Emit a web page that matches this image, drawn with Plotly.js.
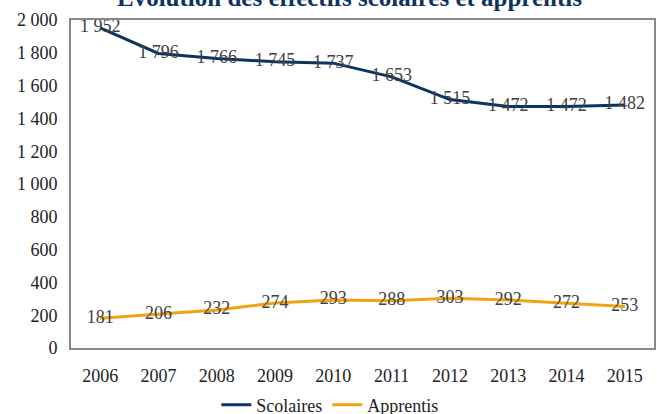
<!DOCTYPE html>
<html><head><meta charset="utf-8">
<script src="https://cdn.plot.ly/plotly-3.0.1.min.js"></script>
<style>html,body{margin:0;padding:0;background:#fff}#c{width:657px;height:414px}</style>
</head><body><div id="c"></div>
<script>
const years = ['2006','2007','2008','2009','2010','2011','2012','2013','2014','2015'];
const scolaires = [1952,1796,1766,1745,1737,1653,1515,1472,1472,1482];
const apprentis = [181,206,232,274,293,288,303,292,272,253];
const yTicks = [0,200,400,600,800,1000,1200,1400,1600,1800,2000];
const titleText = 'Évolution des effectifs scolaires et apprentis';

const FONT = 'Liberation Serif, Times New Roman, serif';
const mk = (name, y, color) => ({
  x: years, y: y, name: name, type: 'scatter', mode: 'lines+text',
  line: {color: color, width: 3},
  text: y, texttemplate: '%{y:,}', textposition: 'middle center',
  textfont: {family: FONT, size: 18, color: '#404040'},
  cliponaxis: false
});
const data = [mk('Scolaires', scolaires, '#0c3463'), mk('Apprentis', apprentis, '#f2a30f')];
const layout = {
  width: 657, height: 414,
  margin: {l: 71, r: 3, t: 20, b: 66, autoexpand: false},
  separators: ', ',
  paper_bgcolor: '#fff', plot_bgcolor: '#fff',
  font: {family: FONT, size: 18, color: '#222'},
  annotations: [{text: '<b>' + titleText + '</b>', xref: 'paper', yref: 'paper', x: 0.477, y: 1.07,
                 xanchor: 'center', yanchor: 'middle', showarrow: false,
                 font: {family: FONT, size: 25, color: '#0c3463'}}],
  xaxis: {type: 'category', showgrid: false, showline: true, linecolor: '#888', linewidth: 2, mirror: true,
          ticks: '', tickangle: 0, ticklabelstandoff: 10, tickfont: {family: FONT, size: 18, color: '#222'}, range: [-0.5, 9.5]},
  yaxis: {range: [0, 2000], tickvals: yTicks, tickformat: ',', showgrid: false, showline: true, linecolor: '#888', linewidth: 2, mirror: true,
          ticks: '', ticklabelstandoff: 8, tickfont: {family: FONT, size: 18, color: '#222'}, zeroline: false},
  showlegend: true,
  legend: {orientation: 'h', x: 0.444, xanchor: 'center', xref: 'paper', y: -0.174, yanchor: 'middle',
           font: {family: FONT, size: 18, color: '#222'}, traceorder: 'normal'}
};
Plotly.newPlot('c', data, layout, {displayModeBar: false, staticPlot: true});
</script></body></html>
